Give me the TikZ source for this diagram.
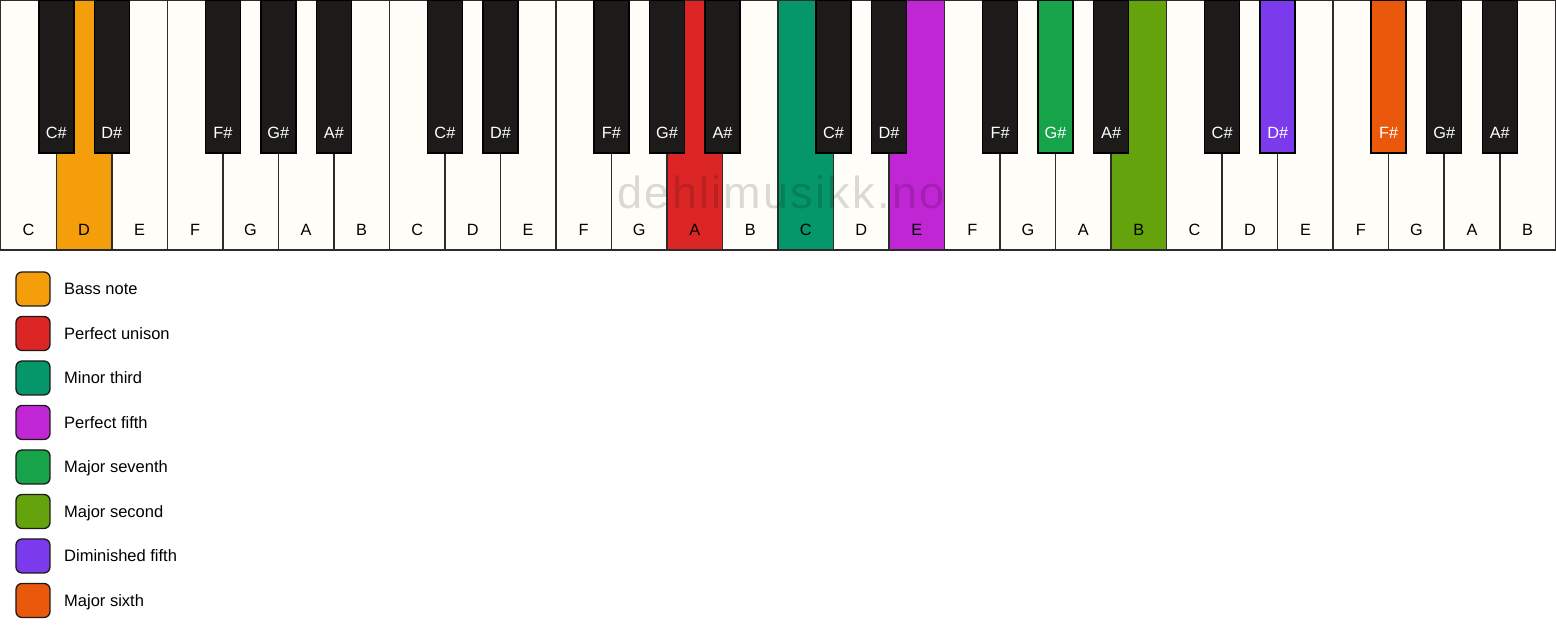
\documentclass[tikz,border=0pt]{standalone}
\usepackage{fontspec}
\setmainfont{Liberation Sans}
\usetikzlibrary{positioning}
\definecolor{ivory}{HTML}{FFFDF8}
\definecolor{ebony}{HTML}{1C1B1A}
\definecolor{keyline}{HTML}{2B2B2B}
\definecolor{bass}{HTML}{F59E0B}
\definecolor{unison}{HTML}{DC2626}
\definecolor{minthird}{HTML}{059669}
\definecolor{perfifth}{HTML}{C026D3}
\definecolor{majseventh}{HTML}{16A34A}
\definecolor{majsecond}{HTML}{65A30D}
\definecolor{dimfifth}{HTML}{7C3AED}
\definecolor{majsixth}{HTML}{EA580C}
\tikzset{
    whitekey/.style={rectangle,draw=keyline,line width=1.5bp,fill=ivory,minimum width=55.52bp,minimum height=249.25bp,anchor=north west,inner sep=0pt,outer sep=0pt},
    blackkey/.style={rectangle,draw=black,line width=1.5bp,fill=ebony,minimum width=35bp,minimum height=152.25bp,anchor=north,inner sep=0pt,outer sep=0pt},
    keyname/.style={text=black,font=\fontsize{16.3bp}{19bp}\selectfont,text height=12bp,text depth=0pt,inner sep=0pt},
    sharpname/.style={keyname,text=white},
    swatch/.style={rectangle,rounded corners=6bp,draw=ebony,line width=1.3bp,minimum size=34bp,inner sep=0pt,outer sep=0pt},
    legendtext/.style={font=\fontsize{16.5bp}{19bp}\selectfont,text height=12bp,text depth=0pt,inner sep=0pt,anchor=west},
}

\begin{document}
\begin{tikzpicture}[x=1bp,y=-1bp]
\fill[white] (0,0) rectangle (1556,639);
% white keys
\foreach \n/\c [count=\i] in {C/ivory,D/bass,E/ivory,F/ivory,G/ivory,A/ivory,B/ivory,
    C/ivory,D/ivory,E/ivory,F/ivory,G/ivory,A/unison,B/ivory,
    C/minthird,D/ivory,E/perfifth,F/ivory,G/ivory,A/ivory,B/majsecond,
    C/ivory,D/ivory,E/ivory,F/ivory,G/ivory,A/ivory,B/ivory}{
    \node[whitekey,fill=\c] (w\i) at ({0.75+(\i-1)*55.52},0.75) {};
    \node[keyname] (wn\i) at ([yshift=20bp]w\i.south) {\n};
}
% black keys
\foreach \n/\c/\b [count=\i] in {C\#/ebony/1,D\#/ebony/2,F\#/ebony/4,G\#/ebony/5,A\#/ebony/6,
    C\#/ebony/8,D\#/ebony/9,F\#/ebony/11,G\#/ebony/12,A\#/ebony/13,
    C\#/ebony/15,D\#/ebony/16,F\#/ebony/18,G\#/majseventh/19,A\#/ebony/20,
    C\#/ebony/22,D\#/dimfifth/23,F\#/majsixth/25,G\#/ebony/26,A\#/ebony/27}{
    \node[blackkey,fill=\c] (b\i) at (w\b.north east) {};
    \node[sharpname] (bn\i) at ([yshift=20bp]b\i.south) {\n};
}
\node[font=\fontsize{45bp}{54bp}\selectfont\addfontfeature{LetterSpace=5},text=black,text opacity=0.14,anchor=base,inner sep=0pt] (wm) at (781,209) {dehlimusikk.no};
% legend
\node[swatch,fill=bass] (s1) at (33,289) {};
\node[legendtext] (t1) [right=14bp of s1] {Bass note};
\node[swatch,fill=unison] (s2) [below=10.5bp of s1] {};
\node[legendtext] (t2) [right=14bp of s2] {Perfect unison};
\node[swatch,fill=minthird] (s3) [below=10.5bp of s2] {};
\node[legendtext] (t3) [right=14bp of s3] {Minor third};
\node[swatch,fill=perfifth] (s4) [below=10.5bp of s3] {};
\node[legendtext] (t4) [right=14bp of s4] {Perfect fifth};
\node[swatch,fill=majseventh] (s5) [below=10.5bp of s4] {};
\node[legendtext] (t5) [right=14bp of s5] {Major seventh};
\node[swatch,fill=majsecond] (s6) [below=10.5bp of s5] {};
\node[legendtext] (t6) [right=14bp of s6] {Major second};
\node[swatch,fill=dimfifth] (s7) [below=10.5bp of s6] {};
\node[legendtext] (t7) [right=14bp of s7] {Diminished fifth};
\node[swatch,fill=majsixth] (s8) [below=10.5bp of s7] {};
\node[legendtext] (t8) [right=14bp of s8] {Major sixth};
\end{tikzpicture}
\end{document}
